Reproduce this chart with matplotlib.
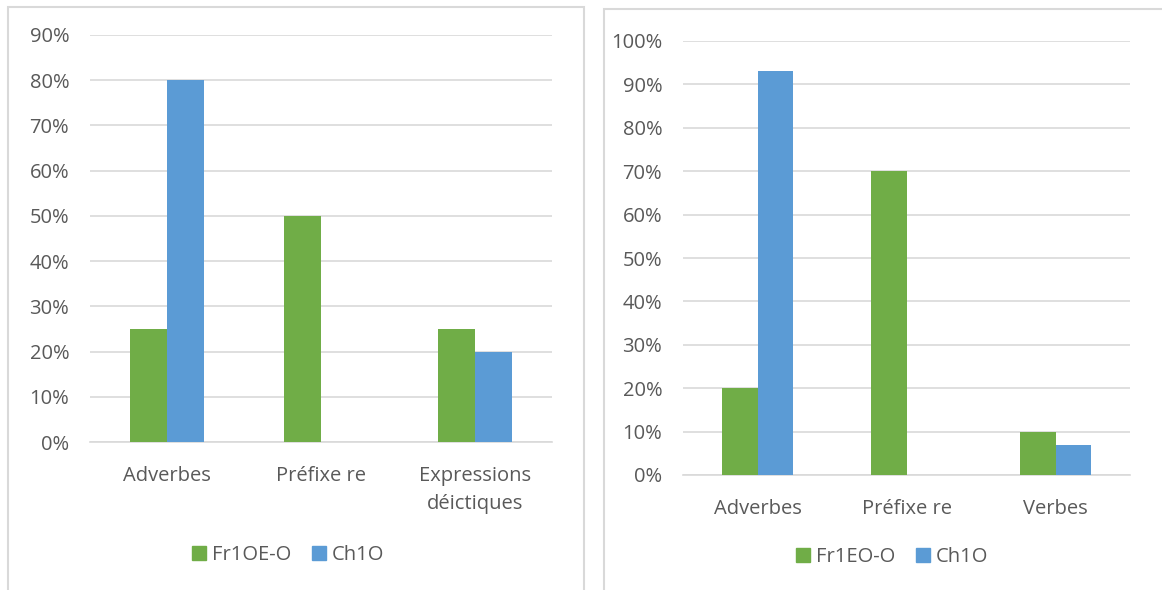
import matplotlib.pyplot as plt
from matplotlib.patches import Rectangle, Patch
from matplotlib.ticker import PercentFormatter

plt.rcParams['font.family'] = ['Open Sans', 'DejaVu Sans']

# left chart data
cats_left = ['Adverbes', 'Préfixe re', 'Expressions\ndéictiques']
fr_left = [0.25, 0.50, 0.25]
ch_left = [0.80, 0.0, 0.20]
# right chart data
cats_right = ['Adverbes', 'Préfixe re', 'Verbes']
fr_right = [0.20, 0.70, 0.10]
ch_right = [0.93, 0.0, 0.07]

green = '#70ad47'
blue = '#5b9bd5'
grid = '#d9d9d9'
txt = '#595959'

W, H = 1162, 590
fig = plt.figure(figsize=(W / 100, H / 100), dpi=100)


def px_axes(x0, y_top, x1, y_bot):
    return fig.add_axes([x0 / W, (H - y_bot) / H, (x1 - x0) / W, (y_bot - y_top) / H])


def draw(ax, cats, fr, ch, ymax):
    x = range(len(cats))
    w = 0.24
    ax.bar([i - w / 2 for i in x], fr, width=w, color=green, zorder=3)
    ax.bar([i + w / 2 for i in x], ch, width=w, color=blue, zorder=3)
    ax.set_xlim(-0.5, len(cats) - 0.5)
    ax.set_ylim(0, ymax)
    ax.set_yticks([i / 10 for i in range(int(round(ymax * 10)) + 1)])
    ax.yaxis.set_major_formatter(PercentFormatter(1.0, decimals=0))
    ax.set_xticks(list(x))
    ax.set_xticklabels(cats, fontsize=14.5, color=txt, linespacing=1.55)
    ax.tick_params(axis='y', labelsize=14.5, labelcolor=txt, length=0, pad=15)
    ax.tick_params(axis='x', length=0, pad=17)
    ax.grid(axis='y', color=grid, linewidth=1.2, zorder=0)
    for s in ['top', 'right', 'left']:
        ax.spines[s].set_visible(False)
    ax.spines['bottom'].set_color(grid)
    ax.spines['bottom'].set_linewidth(1.2)


ax1 = px_axes(90, 35, 552, 442)
draw(ax1, cats_left, fr_left, ch_left, 0.9)
ax2 = px_axes(683, 41, 1130, 475)
draw(ax2, cats_right, fr_right, ch_right, 1.0)

# chart area borders
fig.patches.append(Rectangle((8 / W, -0.05), 576 / W, (H - 7) / H + 0.05,
                             transform=fig.transFigure, fill=False,
                             edgecolor=grid, linewidth=1.5))
fig.patches.append(Rectangle((604 / W, -0.05), 600 / W, (H - 9) / H + 0.05,
                             transform=fig.transFigure, fill=False,
                             edgecolor=grid, linewidth=1.5))

for name, cx, cy in [('Fr1OE-O', 288, 555), ('Fr1EO-O', 892, 557)]:
    handles = [Patch(color=green, label=name), Patch(color=blue, label='Ch1O')]
    fig.legend(handles=handles, loc='center', bbox_to_anchor=(cx / W, (H - cy) / H),
               ncol=2, frameon=False, fontsize=14.5, labelcolor=txt,
               handlelength=0.7, handleheight=0.7, handletextpad=0.3,
               columnspacing=1.0)

fig.savefig('out.png', dpi=100)
